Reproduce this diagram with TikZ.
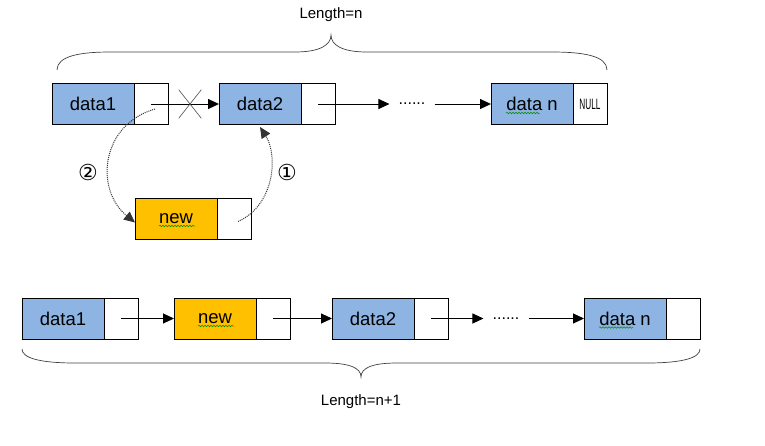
\documentclass[tikz,border=0pt]{standalone}
\usepackage{fontspec}
\setmainfont{Liberation Sans}
\newfontfamily\circfont{DejaVu Sans}
\usepackage{graphicx}
\usetikzlibrary{arrows.meta,positioning,decorations.pathmorphing,shapes.misc}
\definecolor{DataBlue}{RGB}{141,180,226}
\definecolor{NewOrange}{RGB}{255,192,0}
\tikzset{
  ListNode/.style = {draw = black, line width = 0.8pt, inner sep=0pt, outer sep=0pt, minimum height=41pt, font=\fontsize{18.5}{20}\selectfont},
  DataNode/.style = {ListNode, fill = DataBlue, minimum width = 82pt},
  NewNode/.style = {ListNode, fill = NewOrange, minimum width = 82pt},
  PtrNode/.style = {ListNode, fill = white, minimum width = 34pt},
  DotsNode/.style = {inner sep = 9pt, font=\fontsize{16}{18}\selectfont},
  Link/.style = {->, line width = 1pt},
  Hint/.style = {->, densely dotted, line width = 1pt, black!80},
  Brace/.style = {line width = 0.7pt, black!75},
  Squiggle/.style = {draw = green!55!black, line width = 0.5pt, decorate, decoration = {snake, segment length = 3pt, amplitude = 0.8pt}},
  LenLabel/.style = {font=\fontsize{15}{18}\selectfont},
  CircNum/.style = {font=\circfont\fontsize{22}{24}\selectfont}
}
\begin{document}
\begin{tikzpicture}[x=1pt, y=-1pt, >={Triangle[length=11pt,width=10pt]}]
  \useasboundingbox (0,0) rectangle (765,445);
  \node [LenLabel] (lenTop) at (331,15) {Length=n};
  \draw [Brace] (57,70) .. controls (57,56) and (80,52) .. (110,52) -- (295,52)
    .. controls (320,52) and (331,45) .. (331,35)
    .. controls (331,45) and (342,52) .. (367,52) -- (552,52)
    .. controls (584,52) and (607,56) .. (607,70);
  \node [DataNode] (d1) at (93,104) {data1};
  \node [PtrNode, right=0pt of d1] (p1) {};
  \node [DataNode] (d2) at (260,104) {data2};
  \node [PtrNode, right=0pt of d2] (p2) {};
  \node [DotsNode] (dots) at (412,104) {......};
  \node [DataNode] (dn) at (532,104) {data n};
  \node [PtrNode, right=0pt of dn] (pn) {\fontsize{15}{16}\selectfont\scalebox{0.55}[1]{NULL}};
  \draw [Link] (p1.center) -- (d2.west);
  \draw [Link] (p2.center) -- (dots.west);
  \draw [Link] (dots.east) -- (dn.west);
  \node [cross out, draw = black!70, line width = 0.6pt, minimum width = 22pt, minimum height = 28pt, inner sep = 0pt] (cut) at (190,104) {};
  \node [NewNode] (nd) at (176,218.5) {new};
  \node [PtrNode, right=0pt of nd] (np) {};
  \draw [Hint] ([xshift=4pt,yshift=-5pt]p1.center) .. controls (100,125) and (95,190) .. ([yshift=-4pt]nd.west);
  \draw [Hint] ([xshift=4pt,yshift=-3pt]np.center) .. controls (275,205) and (278,155) .. ([yshift=-2.5pt]d2.south);
  \node [CircNum] (n2) at (88,172) {②};
  \node [CircNum] (n1) at (287,172) {①};
  \draw [Squiggle] ([xshift=-17pt,yshift=-7.5pt]nd.center) -- ([xshift=19pt,yshift=-7.5pt]nd.center);
  \draw [Squiggle] ([xshift=-26pt,yshift=-9pt]dn.center) -- ([xshift=8pt,yshift=-9pt]dn.center);
  \node [DataNode] (b1) at (63,318.5) {data1};
  \node [PtrNode, right=0pt of b1] (bp1) {};
  \node [NewNode] (bnew) at (215,318.5) {new};
  \node [PtrNode, right=0pt of bnew] (bpnew) {};
  \node [DataNode] (b2) at (373,318.5) {data2};
  \node [PtrNode, right=0pt of b2] (bp2) {};
  \node [DotsNode] (bdots) at (506,318.5) {......};
  \node [DataNode] (bn) at (625,318.5) {data n};
  \node [PtrNode, right=0pt of bn] (bpn) {};
  \draw [Link] (bp1.center) -- (bnew.west);
  \draw [Link] (bpnew.center) -- (b2.west);
  \draw [Link] (bp2.center) -- (bdots.west);
  \draw [Link] (bdots.east) -- (bn.west);
  \draw [Squiggle] ([xshift=-17pt,yshift=-7.5pt]bnew.center) -- ([xshift=19pt,yshift=-7.5pt]bnew.center);
  \draw [Squiggle] ([xshift=-26pt,yshift=-9pt]bn.center) -- ([xshift=8pt,yshift=-9pt]bn.center);
  \draw [Brace] (22,349) .. controls (22,358) and (40,363) .. (75,363) -- (325,363)
    .. controls (350,363) and (361,368) .. (361,377)
    .. controls (361,368) and (372,363) .. (397,363) -- (647,363)
    .. controls (682,363) and (700,358) .. (700,349);
  \node [LenLabel] (lenBot) at (361,402) {Length=n+1};
\end{tikzpicture}
\end{document}
